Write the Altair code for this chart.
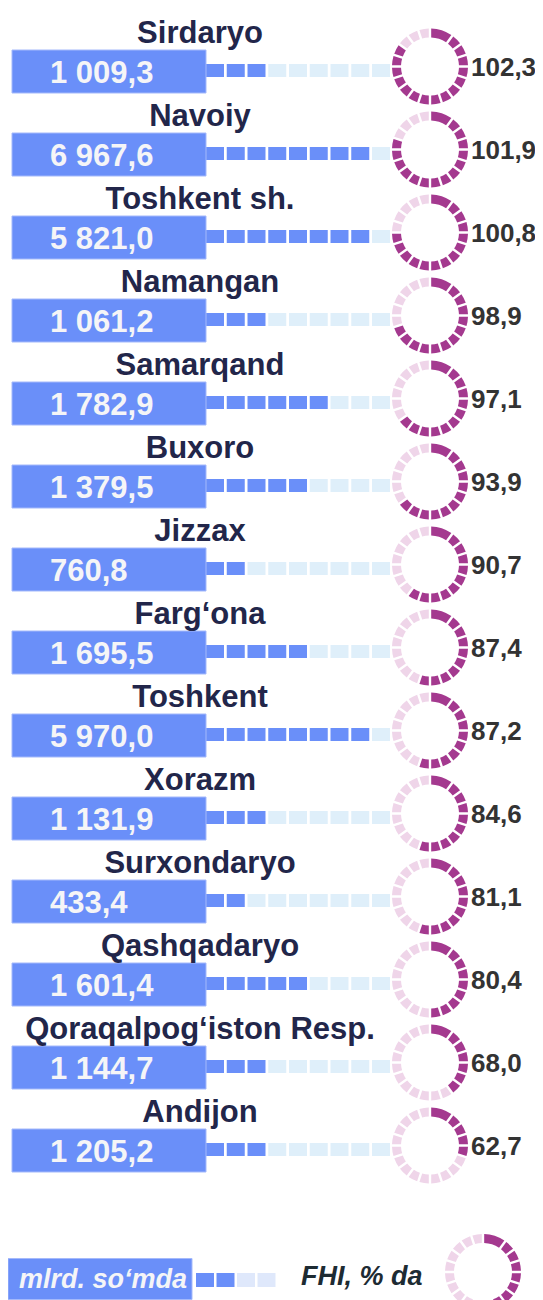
import math
import altair as alt
import pandas as pd

# ---------------- data ----------------
regions = ["Sirdaryo", "Navoiy", "Toshkent sh.", "Namangan", "Samarqand", "Buxoro",
           "Jizzax", "Farg‘ona", "Toshkent", "Xorazm", "Surxondaryo", "Qashqadaryo",
           "Qoraqalpog‘iston Resp.", "Andijon"]
volume = [1009.3, 6967.6, 5821.0, 1061.2, 1782.9, 1379.5, 760.8, 1695.5, 5970.0,
          1131.9, 433.4, 1601.4, 1144.7, 1205.2]          # mlrd. so'm
fhi = [102.3, 101.9, 100.8, 98.9, 97.1, 93.9, 90.7, 87.4, 87.2, 84.6, 81.1, 80.4, 68.0, 62.7]  # %
volume_squares = [3, 8, 8, 3, 6, 5, 2, 5, 8, 3, 2, 5, 3, 3]          # filled squares of 9
fhi_segments = [17, 16, 15, 14, 13, 13, 12, 11, 11, 11, 11, 10, 8, 6]  # filled ring parts of 20
legend_squares = [1, 1, 0, 0]
legend_segments = 10
legend_left = "mlrd. so‘mda"
legend_right = "FHI, % da"

N_SQ = 9
N_SEG = 20
seg_starts = [0] + list(range(2, N_SEG))
seg_ends = [2] + list(range(3, N_SEG + 1))

# ---------------- styles ----------------
BAR = "#6a8ff9"
BAR_EDGE = "#a4b9fb"
SQ_LIGHT = "#dfeffa"
RING_ON = "#a4398f"
RING_OFF = "#efd5e9"
TITLE = "#22264a"
NUM = "#333333"
FONT = "Liberation Sans"


def fmt(v):
    return f"{v:,.1f}".replace(",", " ").replace(".", ",")


W, H = 527, 1292
xs = alt.Scale(domain=[0, W], range=[0, W], nice=False, zero=False)
ys = alt.Scale(type="point", domain=regions, range=[62.5, 62.5 + 83 * 13], padding=0)
Y = alt.Y("region:N", scale=ys, axis=None)

rows = pd.DataFrame({
    "region": regions,
    "volume": volume,
    "vlabel": [fmt(v) for v in volume],
    "fhi": fhi,
    "flabel": [fmt(v) for v in fhi],
})

sq = pd.DataFrame([
    {"region": r, "i": i, "state": "on" if i < n else "off"}
    for r, n in zip(regions, volume_squares) for i in range(N_SQ)
])

seg = pd.DataFrame([
    {"region": r, "t0": a, "t1": b, "state": "on" if b <= n else "off"}
    for r, n in zip(regions, fhi_segments) for a, b in zip(seg_starts, seg_ends)
])

state_color = alt.Color("state:N", scale=alt.Scale(domain=["on", "off"], range=[BAR, SQ_LIGHT]), legend=None)
ring_color = alt.Color("state:N", scale=alt.Scale(domain=["on", "off"], range=[RING_ON, RING_OFF]), legend=None)
theta_scale = alt.Scale(domain=[0, N_SEG], range=[0, 2 * math.pi])

base = alt.Chart(rows)

squares = alt.Chart(sq).transform_calculate(
    sx0="198 + 20.75 * datum.i", sx1="198 + 20.75 * datum.i + 18"
).mark_bar(height=13).encode(
    x=alt.X("sx0:Q", scale=xs, axis=None, stack=False), x2="sx1:Q", y=Y, color=state_color
)

bars = base.transform_calculate(b0="4", b1="198").mark_bar(
    height=43, color=BAR, stroke=BAR_EDGE, strokeWidth=1, yOffset=1
).encode(x=alt.X("b0:Q", scale=xs, axis=None, stack=False), x2="b1:Q", y=Y)

vtext = base.transform_calculate(tx="42").mark_text(
    align="left", baseline="alphabetic", dy=12, font=FONT, fontWeight="bold",
    fontSize=31, color="#f5f5f7"
).encode(x=alt.X("tx:Q", scale=xs, axis=None), y=Y, text="vlabel:N")

titles = base.transform_calculate(tx="192").mark_text(
    align="center", baseline="alphabetic", dy=-28, font=FONT, fontWeight="bold",
    fontSize=31, color=TITLE
).encode(x=alt.X("tx:Q", scale=xs, axis=None), y=Y, text="region:N")

rings = alt.Chart(seg).transform_calculate(cx="422").mark_arc(
    innerRadius=29, outerRadius=38, padAngle=0.05, yOffset=-4
).encode(
    x=alt.X("cx:Q", scale=xs, axis=None, stack=False), y=Y,
    theta=alt.Theta("t0:Q", scale=theta_scale, stack=False), theta2="t1:Q",
    color=ring_color,
)

ftext = base.transform_calculate(tx="463").mark_text(
    align="left", baseline="alphabetic", dy=5, font=FONT, fontWeight="bold",
    fontSize=26, color=NUM
).encode(x=alt.X("tx:Q", scale=xs, axis=None), y=Y, text="flabel:N")

# ---------------- legend ----------------
LY = 1271
leg_rows = pd.DataFrame({"label": [legend_left]})
leg_sq = pd.DataFrame({"i": list(range(len(legend_squares))),
                       "state": ["on" if s else "off" for s in legend_squares]})
leg_seg = pd.DataFrame({"t0": seg_starts, "t1": seg_ends,
                        "state": ["on" if b <= legend_segments else "off" for b in seg_ends]})

leg_bar = alt.Chart(leg_rows).transform_calculate(b0="0", b1="184").mark_bar(
    height=41, color=BAR, stroke=BAR_EDGE, strokeWidth=1
).encode(x=alt.X("b0:Q", scale=xs, axis=None, stack=False), x2="b1:Q", y=alt.value(LY))

leg_text = alt.Chart(leg_rows).transform_calculate(tx="11").mark_text(
    align="left", baseline="alphabetic", dy=9, font=FONT, fontWeight="bold",
    fontStyle="italic", fontSize=27, color="#f5f5f7"
).encode(x=alt.X("tx:Q", scale=xs, axis=None), y=alt.value(LY), text="label:N")

leg_squares = alt.Chart(leg_sq).transform_calculate(
    sx0="188 + 20.5 * datum.i", sx1="188 + 20.5 * datum.i + 18"
).mark_bar(height=14).encode(
    x=alt.X("sx0:Q", scale=xs, axis=None, stack=False), x2="sx1:Q", y=alt.value(LY + 1),
    color=alt.Color("state:N", scale=alt.Scale(domain=["on", "off"], range=[BAR, "#dfe8fb"]), legend=None),
)

leg_text2 = alt.Chart(pd.DataFrame({"label": [legend_right]})).transform_calculate(tx="293").mark_text(
    align="left", baseline="alphabetic", dy=6, font=FONT, fontWeight="bold",
    fontStyle="italic", fontSize=27, color="#1d2b33"
).encode(x=alt.X("tx:Q", scale=xs, axis=None), y=alt.value(LY), text="label:N")

leg_ring = alt.Chart(leg_seg).transform_calculate(cx="475").mark_arc(
    innerRadius=29, outerRadius=38, padAngle=0.05
).encode(
    x=alt.X("cx:Q", scale=xs, axis=None, stack=False), y=alt.value(LY - 7),
    theta=alt.Theta("t0:Q", scale=theta_scale, stack=False), theta2="t1:Q",
    color=alt.Color("state:N", scale=alt.Scale(domain=["on", "off"], range=[RING_ON, RING_OFF]), legend=None),
)

chart = alt.layer(
    squares, bars, vtext, titles, rings, ftext,
    leg_squares, leg_bar, leg_text, leg_text2, leg_ring,
).resolve_scale(color="independent").properties(
    width=W, height=H, padding=0, autosize=alt.AutoSizeParams(type="none")
).configure_view(stroke=None)

chart.save("out.html", embed_options={"renderer": "svg", "actions": False})
